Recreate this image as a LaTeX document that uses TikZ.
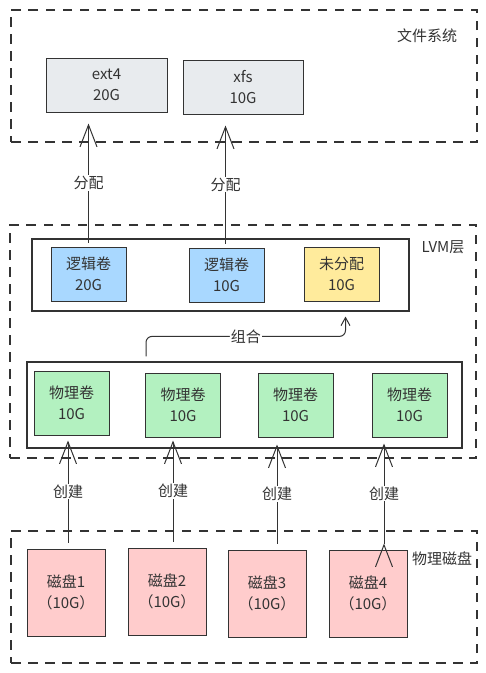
\documentclass[tikz,border=0pt]{standalone}
\usepackage{fontspec}
\setmainfont{Noto Sans CJK SC}
\usetikzlibrary{arrows.meta}
\definecolor{ink}{HTML}{333333}
\definecolor{fsgray}{HTML}{E8EBEE}
\definecolor{lvblue}{HTML}{A9D8FF}
\definecolor{freeyellow}{HTML}{FFEB9C}
\definecolor{pvgreen}{HTML}{B3F1C0}
\definecolor{diskpink}{HTML}{FFCCCC}

\begin{document}
\begin{tikzpicture}[x=1pt, y=-1pt,
    font=\fontsize{15}{21}\selectfont,
    layerbox/.style={draw=ink, line width=1.3pt, dash pattern=on 9.5pt off 7.5pt, minimum width=466, inner sep=0pt},
    framebox/.style={draw=ink, line width=1.2pt, fill=white, inner sep=0pt},
    cellbox/.style={draw=ink, line width=1pt, text=ink, align=center, inner sep=0pt},
    liftarrow/.style={draw=ink, line width=1pt, -{Straight Barb[length=22pt,width=17pt]}},
    combinearrow/.style={draw=ink, line width=1pt, rounded corners=6pt, -{Straight Barb[length=8pt,width=9pt]}},
    lbl/.style={fill=white, text=ink, inner sep=1pt}]
  \useasboundingbox (0,0) rectangle (486,673);

  % layers
  \node[layerbox, minimum height=132] (fslayer) at (244,76) {};
  \node[layerbox, minimum height=233] (lvmlayer) at (243,341.5) {};
  \node[layerbox, minimum height=132] (disklayer) at (244,597) {};
  \node[text=ink] (fstitle) at (427,36) {文件系统};
  \node[text=ink] (lvmtitle) at (443,247) {LVM层};
  \node[text=ink] (disktitle) at (442,559) {物理磁盘};

  % file systems
  \node[cellbox, fill=fsgray, minimum width=121, minimum height=54] (ext4) at (106.5,85) {ext4\\20G};
  \node[cellbox, fill=fsgray, minimum width=120, minimum height=54] (xfs) at (243,87) {xfs\\10G};

  % logical volumes
  \node[framebox, minimum width=377, minimum height=72] (lvrow) at (220.5,275) {};
  \node[cellbox, fill=lvblue, minimum width=75, minimum height=54] (lv1) at (88.5,274) {逻辑卷\\20G};
  \node[cellbox, fill=lvblue, minimum width=75, minimum height=54] (lv2) at (226.5,275) {逻辑卷\\10G};
  \node[cellbox, fill=freeyellow, minimum width=75, minimum height=54] (free) at (341.5,274) {未分配\\10G};

  % physical volumes
  \node[framebox, minimum width=435, minimum height=86] (pvrow) at (244.5,405) {};
  \node[cellbox, fill=pvgreen, minimum width=75, minimum height=64] (pv1) at (71.5,403) {物理卷\\10G};
  \node[cellbox, fill=pvgreen, minimum width=75, minimum height=64] (pv2) at (183,405) {物理卷\\10G};
  \node[cellbox, fill=pvgreen, minimum width=75, minimum height=64] (pv3) at (295.5,405) {物理卷\\10G};
  \node[cellbox, fill=pvgreen, minimum width=75, minimum height=64] (pv4) at (409.5,405) {物理卷\\10G};

  % disks
  \node[cellbox, fill=diskpink, minimum width=78, minimum height=87] (disk1) at (66,592.5) {磁盘1\\（10G）};
  \node[cellbox, fill=diskpink, minimum width=78, minimum height=87] (disk2) at (167,591.5) {磁盘2\\（10G）};
  \node[cellbox, fill=diskpink, minimum width=78, minimum height=87] (disk3) at (267,593.5) {磁盘3\\（10G）};
  \node[cellbox, fill=diskpink, minimum width=78, minimum height=87] (disk4) at (368,593.5) {磁盘4\\（10G）};

  \path[liftarrow]
  ([yshift=4pt]lv1.north) edge node[lbl] {分配} ([yshift=-11pt]lv1.north |- ext4.south)
  ([xshift=-1pt,yshift=4pt]lv2.north) edge node[lbl] {分配} ([xshift=-1pt,yshift=-11pt]lv2.north |- xfs.south)
  ([xshift=2pt,yshift=6pt]disk1.north) edge node[lbl] {创建} ([xshift=2pt,yshift=-5pt]disk1.north |- pv1.south)
  ([xshift=6pt,yshift=6pt]disk2.north) edge node[lbl] {创建} ([xshift=6pt,yshift=-3pt]disk2.north |- pv2.south)
  ([xshift=10pt,yshift=6pt]disk3.north) edge node[lbl] {创建} ([xshift=10pt,yshift=-7pt]disk3.north |- pv3.south)
  ([xshift=16pt,yshift=6pt]disk4.north) edge node[lbl] {创建} ([xshift=16pt,yshift=-6pt]disk4.north |- pv4.south);

  \draw[combinearrow] ([xshift=1pt,yshift=5pt]pvrow.north -| pv2.west) -- ++(0,-20)
    -| node[lbl, pos=0.25] {组合} ([xshift=4pt,yshift=-5pt]free.south |- lvrow.south);
\end{tikzpicture}
\end{document}
